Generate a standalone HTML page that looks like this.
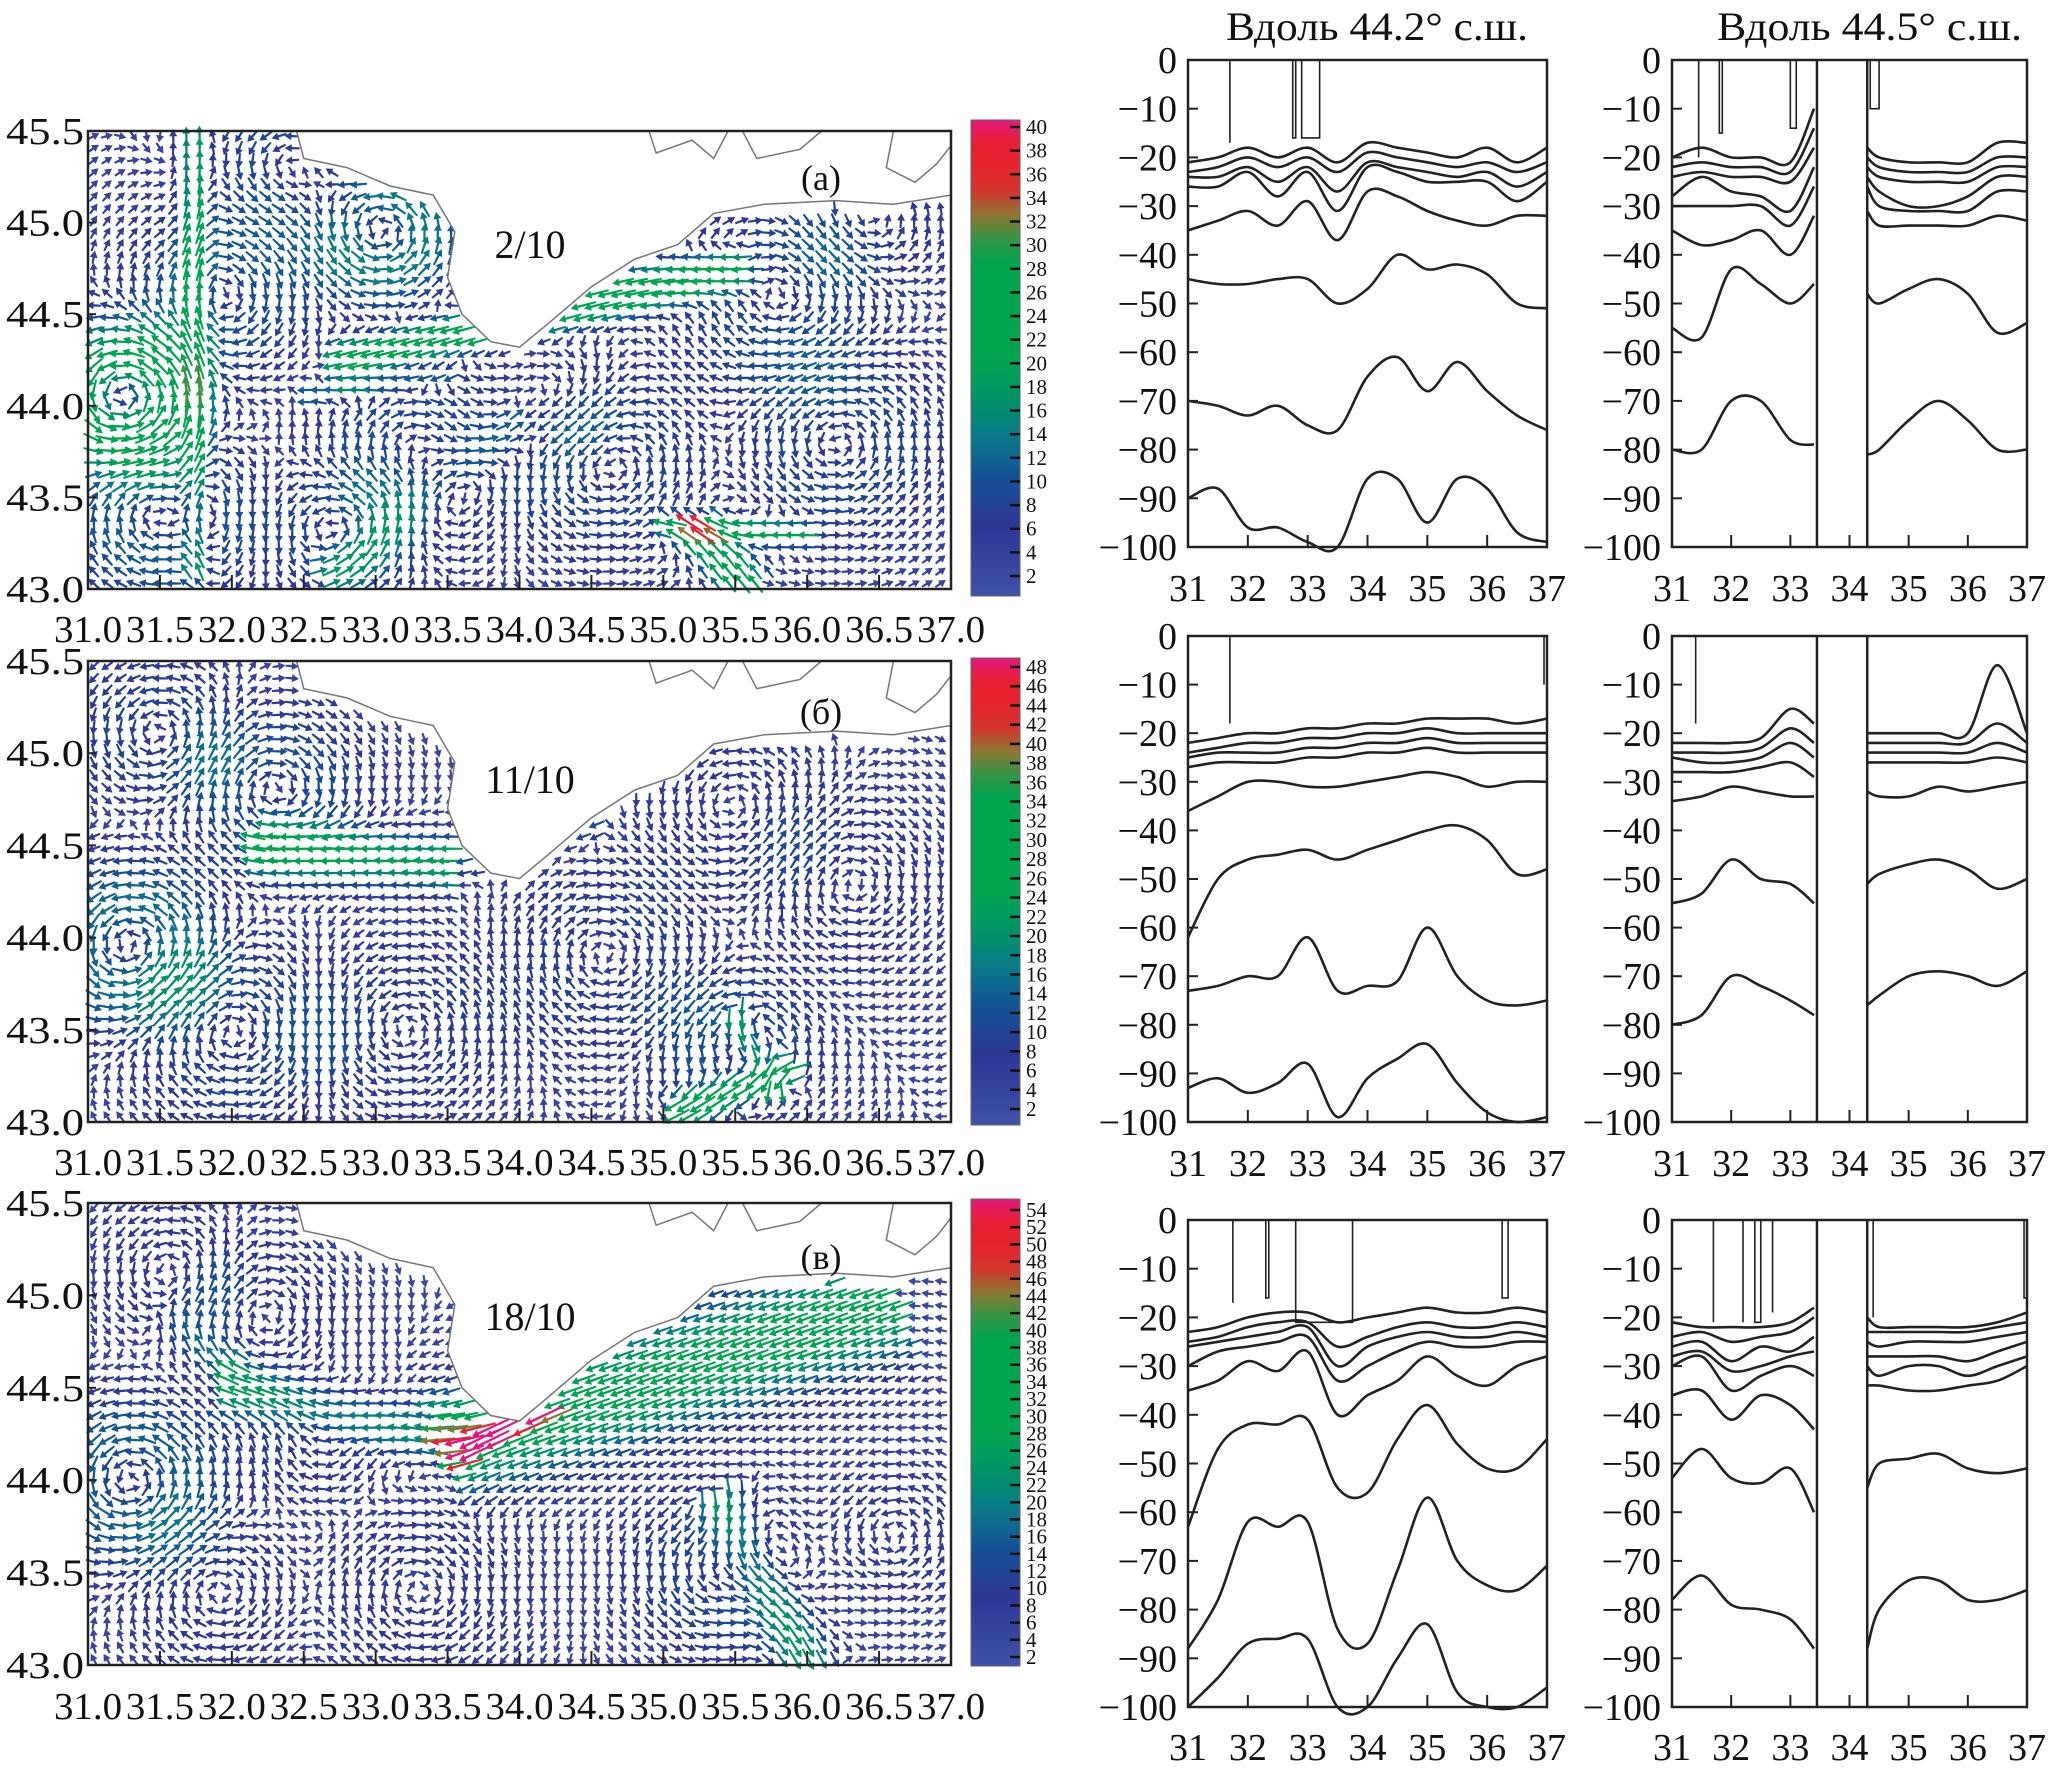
<!DOCTYPE html>
<html><head><meta charset="utf-8">
<style>
html,body{margin:0;padding:0;background:#fff;}
svg{display:block;}
text{font-family:"Liberation Serif",serif;fill:#111;}
</style></head>
<body>
<svg id="fig" width="2051" height="1774" viewBox="0 0 2051 1774" xmlns="http://www.w3.org/2000/svg"></svg>
<script>
// ---------- DATA ----------
const mapLatTicks = ["43.0","43.5","44.0","44.5","45.0","45.5"];
const mapLonTicks = ["31.0","31.5","32.0","32.5","33.0","33.5","34.0","34.5","35.0","35.5","36.0","36.5","37.0"];
const cbarLabelsA = [2,4,6,8,10,12,14,16,18,20,22,24,26,28,30,32,34,36,38,40];
const cbarLabelsB = [2,4,6,8,10,12,14,16,18,20,22,24,26,28,30,32,34,36,38,40,42,44,46,48];
const cbarLabelsC = [2,4,6,8,10,12,14,16,18,20,22,24,26,28,30,32,34,36,38,40,42,44,46,48,50,52,54];
const panelLetters = ["(а)","(б)","(в)"];
const panelDates = ["2/10","11/10","18/10"];
const coastLine = [[32.45,45.5],[32.5,45.35],[32.8,45.3],[33.1,45.2],[33.4,45.15],[33.55,44.95],[33.5,44.7],[33.6,44.5],[33.8,44.35],[34.0,44.32],[34.2,44.45],[34.5,44.65],[34.8,44.8],[35.1,44.88],[35.35,45.05],[35.7,45.1],[36.2,45.12],[36.6,45.1],[37.0,45.15]];
const azovLines = [[[34.9,45.5],[34.95,45.38],[35.2,45.45],[35.35,45.35],[35.45,45.5]],[[35.55,45.5],[35.65,45.35],[35.95,45.4],[36.1,45.5]],[[36.6,45.5],[36.55,45.3],[36.75,45.22],[36.9,45.32],[37.0,45.42]]];
// vortices: [lon, lat, strength(cm/s), radius(deg)]
const vortA = [[31.25,44.05,26,0.3],[33.05,44.95,16,0.3],[31.9,44.6,-10,0.35],[33.3,43.75,-9,0.4],[34.6,43.7,8,0.4],[36.2,43.8,8,0.4],[35.8,44.6,-8,0.4],[31.5,43.4,-12,0.35],[32.4,45.3,8,0.3],[36.4,45.0,6,0.3],[34.3,44.0,-6,0.3],[32.8,43.3,8,0.3]];
const vortB = [[31.3,43.95,18,0.35],[32.3,44.8,-12,0.35],[31.5,45.1,10,0.3],[32.0,43.5,-10,0.4],[33.2,43.5,8,0.4],[34.6,43.9,-8,0.4],[35.5,43.4,12,0.3],[36.3,44.3,-6,0.4],[35.5,44.7,6,0.4]];
const vortC = [[31.3,44.0,18,0.35],[32.2,44.9,-8,0.35],[31.6,45.1,8,0.3],[32.6,44.2,-8,0.3],[35.4,43.5,12,0.35],[33.3,43.4,-8,0.4],[31.9,43.4,-8,0.35],[36.6,43.7,6,0.3]];
// jets: [lon0,lat0,lon1,lat1,width,speed]
const jetA = [[35.5,44.75,32.8,44.25,0.12,25],[33.5,44.15,32.5,44.05,0.06,12],[31.75,43.1,31.75,45.5,0.08,18],[35.6,43.0,35.2,43.35,0.12,22],[36.0,43.3,35.0,43.35,0.08,20],[32.7,43.1,34.0,43.9,0.15,12]];
const jetB = [[33.5,44.4,32.2,44.5,0.15,20],[35.9,43.3,35.1,43.05,0.1,35],[35.5,43.6,35.8,43.15,0.08,22],[34.5,44.6,33.5,44.4,0.1,10]];
const jetC = [[36.5,44.95,33.6,44.2,0.3,28],[34.2,44.4,33.6,44.15,0.06,45],[33.6,44.2,32.0,44.5,0.15,20],[35.4,43.9,36.0,43.0,0.15,22],[32.0,44.6,31.5,44.9,0.1,10]];

// section data
const secLonsFull = [31,31.5,32,32.5,33,33.5,34,34.5,35,35.5,36,36.5,37];
const secLonsGap = [31,31.5,32,32.5,33,33.4,34.3,34.5,35,35.5,36,36.5,37];
const depthTicks = [0,-10,-20,-30,-40,-50,-60,-70,-80,-90,-100];
const secLonTicks = [31,32,33,34,35,36,37];
const titles = ["Вдоль 44.2°  с.ш.","Вдоль 44.5°  с.ш."];
const s11 = [
 [-21,-20,-18,-20,-18,-21,-17,-18,-19,-20,-18,-21,-18],
 [-23,-22,-20,-22,-20,-23,-19,-20,-21,-22,-21,-23,-21],
 [-24,-24,-22,-25,-22,-27,-21,-22,-23,-24,-23,-26,-23],
 [-26,-26,-23,-28,-23,-31,-22,-23,-25,-25,-25,-29,-25],
 [-35,-33,-31,-34,-29,-37,-27,-28,-31,-33,-34,-32,-32],
 [-45,-46,-46,-45,-45,-50,-47,-40,-43,-42,-44,-50,-51],
 [-70,-71,-73,-71,-75,-76,-65,-61,-68,-62,-68,-73,-76],
 [-90,-88,-96,-96,-99,-100,-86,-86,-95,-86,-88,-97,-99]];
const s12 = [
 [-20,-18,-20,-20,-21,-10,-18,-20,-21,-21,-21,-17,-17],
 [-22,-21,-22,-22,-23,-14,-20,-22,-23,-23,-23,-20,-20],
 [-24,-23,-24,-24,-25,-18,-22,-24,-25,-25,-25,-22,-22],
 [-28,-24,-27,-28,-31,-22,-24,-27,-30,-30,-28,-24,-24],
 [-30,-30,-30,-30,-34,-26,-26,-30,-31,-31,-31,-27,-27],
 [-35,-38,-37,-35,-40,-32,-31,-34,-34,-34,-34,-32,-33],
 [-55,-57,-43,-46,-50,-46,-48,-50,-47,-45,-48,-56,-54],
 [-80,-80,-70,-70,-78,-79,-81,-80,-74,-70,-74,-80,-80]];
const s21 = [
 [-22,-21,-20,-20,-19,-19,-18,-18,-17,-17,-17,-18,-17],
 [-24,-23,-22,-22,-21,-21,-20,-20,-19,-20,-20,-20,-20],
 [-25,-24,-24,-24,-23,-23,-22,-22,-21,-22,-22,-22,-22],
 [-27,-26,-26,-26,-25,-25,-24,-24,-23,-24,-24,-24,-24],
 [-36,-33,-30,-30,-31,-31,-30,-29,-28,-29,-31,-30,-30],
 [-62,-50,-46,-45,-44,-46,-44,-42,-40,-39,-42,-49,-48],
 [-73,-72,-70,-70,-62,-73,-72,-71,-60,-70,-75,-76,-75],
 [-93,-91,-94,-92,-88,-99,-91,-87,-84,-92,-98,-100,-99]];
const s22 = [
 [-22,-22,-22,-21,-15,-18,-20,-20,-20,-20,-20,-6,-20],
 [-24,-24,-24,-23,-19,-22,-22,-22,-22,-22,-22,-18,-22],
 [-25,-26,-26,-25,-22,-25,-24,-24,-24,-24,-24,-22,-24],
 [-28,-28,-28,-27,-26,-29,-26,-26,-26,-26,-26,-25,-26],
 [-34,-33,-31,-32,-33,-33,-32,-33,-33,-31,-32,-31,-30],
 [-55,-53,-46,-50,-51,-55,-51,-49,-47,-46,-48,-52,-50],
 [-80,-78,-70,-72,-75,-78,-76,-74,-70,-69,-70,-72,-69]];
const s31 = [
 [-23,-22,-20,-19,-19,-21,-20,-19,-18,-19,-19,-18,-19],
 [-25,-24,-22,-21,-21,-26,-24,-22,-21,-22,-22,-21,-22],
 [-26,-25,-24,-23,-22,-30,-26,-24,-23,-24,-24,-23,-24],
 [-30,-27,-26,-25,-24,-33,-30,-27,-25,-26,-26,-25,-25],
 [-35,-33,-29,-31,-27,-40,-36,-33,-28,-32,-34,-30,-28],
 [-63,-47,-42,-42,-41,-55,-56,-45,-38,-46,-51,-51,-45],
 [-88,-78,-62,-63,-62,-84,-87,-72,-57,-70,-75,-76,-71],
 [-100,-94,-87,-86,-86,-100,-100,-90,-83,-97,-100,-100,-96]];
const s32 = [
 [-21,-22,-22,-22,-21,-18,-20,-22,-22,-22,-22,-21,-19],
 [-24,-23,-25,-24,-23,-20,-23,-23,-23,-23,-23,-22,-21],
 [-26,-25,-29,-26,-27,-24,-25,-26,-25,-25,-25,-24,-23],
 [-28,-27,-31,-30,-28,-27,-28,-28,-28,-28,-29,-27,-25],
 [-30,-28,-35,-32,-30,-32,-30,-32,-30,-30,-32,-30,-28],
 [-36,-35,-41,-36,-38,-43,-34,-34,-35,-35,-34,-33,-30],
 [-53,-47,-53,-54,-51,-60,-55,-50,-49,-48,-51,-52,-51],
 [-78,-73,-79,-80,-82,-88,-88,-80,-74,-74,-78,-78,-76]];
// near-surface vertical isoline columns: [lon0, lon1, bottom depth]
const cols11 = [[31.7,31.7,-17],[32.75,32.8,-16],[32.9,33.2,-16]];
const cols12 = [[31.45,31.45,-20],[31.8,31.85,-15],[33.0,33.1,-14],[34.35,34.5,-10]];
const cols21 = [[31.7,31.7,-18],[36.95,36.95,-10]];
const cols22 = [[31.4,31.4,-18]];
const cols31 = [[31.75,31.75,-17],[32.3,32.35,-16],[32.8,33.75,-21],[36.25,36.35,-16]];
const cols32 = [[31.7,31.7,-21],[32.2,32.2,-21],[32.4,32.5,-21],[32.7,32.7,-19],[34.4,34.4,-20],[36.95,37,-16]];

// ---------- DRAW ----------
const NS="http://www.w3.org/2000/svg";
const svg=document.getElementById('fig');
function mk(tag,attrs,parent){const e=document.createElementNS(NS,tag);for(const k in attrs)e.setAttribute(k,attrs[k]);(parent||svg).appendChild(e);return e;}
function txt(s,attrs,parent){const e=mk('text',attrs,parent);e.textContent=s;return e;}

const cmapStops=[[0,[64,80,168]],[0.15,[45,55,150]],[0.25,[20,80,150]],[0.33,[10,120,140]],[0.42,[0,150,100]],[0.5,[0,165,80]],[0.72,[0,165,80]],[0.8,[140,120,50]],[0.86,[225,40,45]],[0.95,[232,30,50]],[1,[225,25,125]]];
function cmap(t){t=Math.max(0,Math.min(1,t));for(let i=1;i<cmapStops.length;i++){if(t<=cmapStops[i][0]){const a=cmapStops[i-1],b=cmapStops[i];const f=(t-a[0])/(b[0]-a[0]||1);const c=a[1].map((v,j)=>Math.round(v+(b[1][j]-v)*f));return `rgb(${c[0]},${c[1]},${c[2]})`;}}return 'rgb(225,25,125)';}

const maps=[
 {top:131,bot:589,cTop:120,cBot:596,labels:cbarLabelsA,lab0:576,lab1:127,vmax:41,vort:vortA,jet:jetA,xlab:642},
 {top:661,bot:1122,cTop:658,cBot:1125,labels:cbarLabelsB,lab0:1109,lab1:667,vmax:49,vort:vortB,jet:jetB,xlab:1175},
 {top:1203,bot:1665,cTop:1199,cBot:1666,labels:cbarLabelsC,lab0:1657,lab1:1210,vmax:55,vort:vortC,jet:jetC,xlab:1719}];
const mL=88,mR=951;

function coastLatAt(lon){for(let i=1;i<coastLine.length;i++){const a=coastLine[i-1],b=coastLine[i];if(lon>=Math.min(a[0],b[0])&&lon<=Math.max(a[0],b[0])){const f=(lon-a[0])/((b[0]-a[0])||1);return a[1]+(b[1]-a[1])*f;}}return lon<coastLine[0][0]?99:45.15;}

function velocity(lon,lat,m){let u=0,v=0;
 for(const [cx,cy,s,R] of m.vort){const dx=(lon-cx)*0.72,dy=lat-cy;const r2=(dx*dx+dy*dy)/(R*R);const f=s*Math.exp(-r2)*1.6/R;u+=-dy*f;v+=dx*f;}
 for(const [x0,y0,x1,y1,w,s] of m.jet){const ax=(x1-x0)*0.72,ay=y1-y0;const L=Math.hypot(ax,ay);const px=(lon-x0)*0.72,py=lat-y0;let t=(px*ax+py*ay)/(L*L);if(t<-0.05||t>1.05)continue;t=Math.max(0,Math.min(1,t));const d=Math.hypot(px-ax*t,py-ay*t);const g=s*Math.exp(-(d*d)/(w*w));u+=g*ax/L;v+=g*ay/L;}
 return [u,v];}

maps.forEach((m,mi)=>{
 const g=mk('g',{});
 const X=lon=>mL+(lon-31)/6*(mR-mL), Y=lat=>m.bot-(lat-43)/2.5*(m.bot-m.top);
 const arrows=mk('g',{},g);
 const byColor={};
 for(let lat=43.03;lat<45.49;lat+=0.066){for(let lon=31.04;lon<36.99;lon+=0.092){
   if(lat>coastLatAt(lon)-0.04)continue;
   const [u,v]=velocity(lon,lat,m);let sp=Math.hypot(u,v);const spd=Math.min(sp+3,m.vmax);
   const ang=Math.atan2(-v,u);const len=11+spd*0.55;
   const x=X(lon),y=Y(lat);const c=Math.cos(ang),s=Math.sin(ang);
   const tx=x-c*len/2,ty=y-s*len/2,hx=x+c*len/2,hy=y+s*len/2;const bx=hx-c*7,by=hy-s*7;
   const p=`M${(tx-s*1).toFixed(1)} ${(ty+c*1).toFixed(1)}L${(bx-s*1.2).toFixed(1)} ${(by+c*1.2).toFixed(1)}L${(bx-s*4).toFixed(1)} ${(by+c*4).toFixed(1)}L${hx.toFixed(1)} ${hy.toFixed(1)}L${(bx+s*4).toFixed(1)} ${(by-c*4).toFixed(1)}L${(bx+s*1.2).toFixed(1)} ${(by-c*1.2).toFixed(1)}L${(tx+s*1).toFixed(1)} ${(ty-c*1).toFixed(1)}Z`;
   const col=cmap(spd/m.vmax);(byColor[col]=byColor[col]||[]).push(p);
 }}
 for(const col in byColor){const pth=mk('path',{d:byColor[col].join(''),fill:col},arrows);}
 const lp=coastLine.map(p=>`${X(p[0]).toFixed(1)},${Y(p[1]).toFixed(1)}`).join(' ');
 mk('polygon',{points:`${X(coastLine[0][0])},${m.top} ${lp} ${mR},${m.top}`,fill:'#fff',stroke:'#777','stroke-width':1.5,},g);
 azovLines.forEach(l=>mk('polyline',{points:l.map(p=>`${X(p[0])},${Y(p[1])}`).join(' '),fill:'none',stroke:'#777','stroke-width':1.5,},g));
 mk('rect',{x:mL,y:m.top,width:mR-mL,height:m.bot-m.top,fill:'none',stroke:'#222','stroke-width':2.5,},g);
 mapLatTicks.forEach((t,i)=>{const y=Y(43+i*0.5);txt(t,{x:84,y:y+13,'text-anchor':'end','font-size':38,textLength:78,lengthAdjust:'spacingAndGlyphs',},g);mk('line',{x1:mL,y1:y,x2:mL+8,y2:y,stroke:'#222','stroke-width':2},g);});
 mapLonTicks.forEach((t,i)=>{const x=X(31+i*0.5);txt(t,{x:x,y:m.xlab,'text-anchor':'middle','font-size':38,textLength:68,lengthAdjust:'spacingAndGlyphs',},g);mk('line',{x1:x,y1:m.bot,x2:x,y2:m.bot-14,stroke:'#222','stroke-width':2},g);});
 txt(panelLetters[mi],{x:821,y:[190,724,1269][mi],'font-size':36,'text-anchor':'middle',},g);
 txt(panelDates[mi],{x:530,y:[258,793,1330][mi],'font-size':40,'text-anchor':'middle',},g);
 const cg=mk('g',{});
 const gid='cg'+mi;const defs=mk('defs',{},cg);const lg=mk('linearGradient',{id:gid,x1:0,y1:1,x2:0,y2:0},defs);
 for(let k=0;k<=20;k++)mk('stop',{offset:k/20,'stop-color':cmap(k/20)},lg);
 mk('rect',{x:971,y:m.cTop,width:49,height:m.cBot-m.cTop,fill:`url(#${gid})`,stroke:'#666','stroke-width':1},cg);
 const n=m.labels.length;
 m.labels.forEach((v,i)=>{const y=m.lab0+(m.lab1-m.lab0)*i/(n-1);mk('line',{x1:1010,y1:y,x2:1020,y2:y,stroke:'#111','stroke-width':2.5},cg);txt(String(v),{x:1026,y:y+7,'font-size':21,},cg);});
});

// sections
const cols=[{l:1188,r:1547,lab:1177},{l:1672,r:2027,lab:1661}];
const rows=[{t:60,b:547,xl:601},{t:636,b:1122,xl:1176},{t:1220,b:1707,xl:1760}];
const secData=[[s11,s12],[s21,s22],[s31,s32]];
const colData=[[cols11,cols12],[cols21,cols22],[cols31,cols32]];
function smooth(P){if(P.length<2)return '';let d=`M${P[0][0].toFixed(1)} ${P[0][1].toFixed(1)}`;for(let i=0;i<P.length-1;i++){const p0=P[i-1]||P[i],p1=P[i],p2=P[i+1],p3=P[i+2]||P[i+1];const c1=[p1[0]+(p2[0]-p0[0])/6,p1[1]+(p2[1]-p0[1])/6],c2=[p2[0]-(p3[0]-p1[0])/6,p2[1]-(p3[1]-p1[1])/6];d+=`C${c1[0].toFixed(1)} ${c1[1].toFixed(1)} ${c2[0].toFixed(1)} ${c2[1].toFixed(1)} ${p2[0].toFixed(1)} ${p2[1].toFixed(1)}`;}return d;}
const titleX=[[1226,1528],[1717,2022]];
titles.forEach((t,i)=>txt(t,{x:titleX[i][0],y:40,'font-size':40,textLength:titleX[i][1]-titleX[i][0],lengthAdjust:'spacingAndGlyphs',}));
rows.forEach((rw,ri)=>cols.forEach((c,ci)=>{
 const g=mk('g',{});
 const X=lon=>c.l+(lon-31)/6*(c.r-c.l), Y=dep=>rw.t+(-dep)/100*(rw.b-rw.t);
 const lons=ci===0?secLonsFull:secLonsGap;
 secData[ri][ci].forEach(line=>{
  const segs=ci===0?[[0,13]]:[[0,6],[6,13]];
  segs.forEach(([a,b])=>{const pts=[];for(let k=a;k<b;k++)pts.push([X(lons[k]),Y(line[k])]);
   const pl=mk('path',{d:smooth(pts),fill:'none',stroke:'#222','stroke-width':2.6,'stroke-linejoin':'round'},g);});
 });
 colData[ri][ci].forEach(([a,b,dp])=>{const pl=mk('path',{d:`M${X(a)} ${rw.t}L${X(a)} ${Y(dp)}L${X(b)} ${Y(dp)}L${X(b)} ${rw.t}`,fill:'none',stroke:'#222','stroke-width':1.6},g);});
 if(ci===1){[33.45,34.3].forEach(lo=>mk('line',{x1:X(lo),y1:rw.t,x2:X(lo),y2:rw.b,stroke:'#222','stroke-width':2.5,},g));}
 mk('rect',{x:c.l,y:rw.t,width:c.r-c.l,height:rw.b-rw.t,fill:'none',stroke:'#222','stroke-width':2.5,},g);
 depthTicks.forEach(dv=>{const y=Y(dv);mk('line',{x1:c.l,y1:y,x2:c.l+10,y2:y,stroke:'#222','stroke-width':2},g);txt(dv===0?'0':'\u2212'+(-dv),{x:c.lab,y:y+13,'text-anchor':'end','font-size':38,},g);});
 secLonTicks.forEach(lv=>{const x=X(lv);mk('line',{x1:x,y1:rw.b,x2:x,y2:rw.b-12,stroke:'#222','stroke-width':2},g);txt(String(lv),{x:x,y:rw.xl,'text-anchor':'middle','font-size':38,},g);});
}));
</script>
</body></html>
